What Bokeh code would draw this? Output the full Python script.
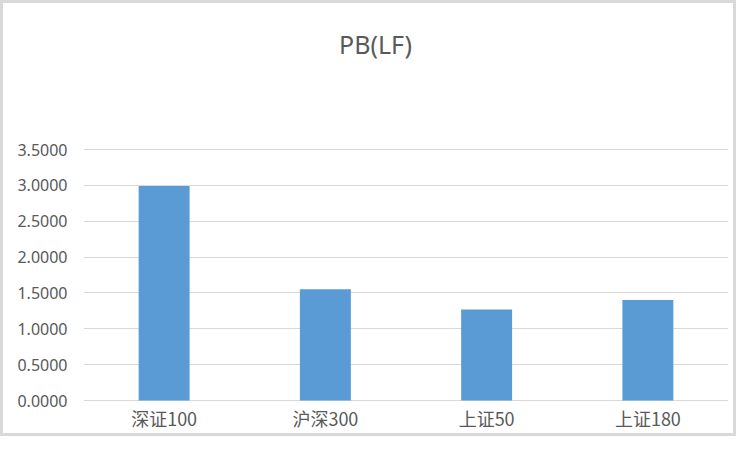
from bokeh.plotting import figure
from bokeh.models import FactorRange, Range1d, NumeralTickFormatter, FixedTicker, ColumnDataSource
from bokeh.core.properties import value
from bokeh.embed import file_html
from bokeh.resources import INLINE

categories = ["深证100", "沪深300", "上证50", "上证180"]
pb_values = [2.99, 1.55, 1.27, 1.40]
y_ticks = [0, 0.5, 1.0, 1.5, 2.0, 2.5, 3.0, 3.5]
title_text = "PB(LF)"

# layout (pixels): value axis 0..3.5 spans 251 px, with 149 px above and 36 px below
W, H = 736, 436
AX_MAX = 3.5
px_per_unit = 251 / AX_MAX
y_lo = -36 / px_per_unit
y_hi = AX_MAX + 149 / px_per_unit

src = ColumnDataSource(data=dict(cat=categories, pb=pb_values, zero=[0] * len(categories)))

p = figure(width=W, height=H,
           x_range=FactorRange(*categories, range_padding=0),
           y_range=Range1d(y_lo, y_hi),
           output_backend="svg", toolbar_location=None,
           min_border_left=83, min_border_right=8,
           min_border_top=0, min_border_bottom=0)

p.vbar(x="cat", top="pb", width=0.316, source=src, color="#5B9BD5", line_color=None)

p.background_fill_color = None
p.border_fill_color = None
p.outline_line_color = None
p.styles = {"box-shadow": "inset 0 0 0 3px #D9D9D9", "background-color": "white"}

p.xgrid.grid_line_color = None
p.ygrid.grid_line_color = "#D9D9D9"
p.yaxis.ticker = FixedTicker(ticks=y_ticks)
p.yaxis.formatter = NumeralTickFormatter(format="0.0000")
p.yaxis.axis_line_color = None
p.yaxis.major_tick_line_color = None
p.yaxis.minor_tick_line_color = None
p.yaxis.major_tick_out = 0
p.yaxis.major_tick_in = 0
p.yaxis.major_label_text_font = "Noto Sans"
p.yaxis.major_label_text_font_size = "16px"
p.yaxis.major_label_text_color = "#595959"
p.yaxis.major_label_standoff = 16
p.xaxis.visible = False

# category labels below the baseline
p.text(x="cat", y="zero", text="cat", source=src,
       text_align="center", text_baseline="middle", y_offset=17,
       text_font=value("Noto Sans CJK SC"), text_font_size="18px",
       text_color="#595959")

# chart title
p.text(x=[len(categories) / 2], y=[AX_MAX], text=[title_text],
       text_align="center", text_baseline="alphabetic",
       x_offset=-30.5, y_offset=-106,
       text_font=value("Noto Sans"), text_font_size="25px",
       text_color="#595959")

open("out.html", "w").write(file_html(p, INLINE))
